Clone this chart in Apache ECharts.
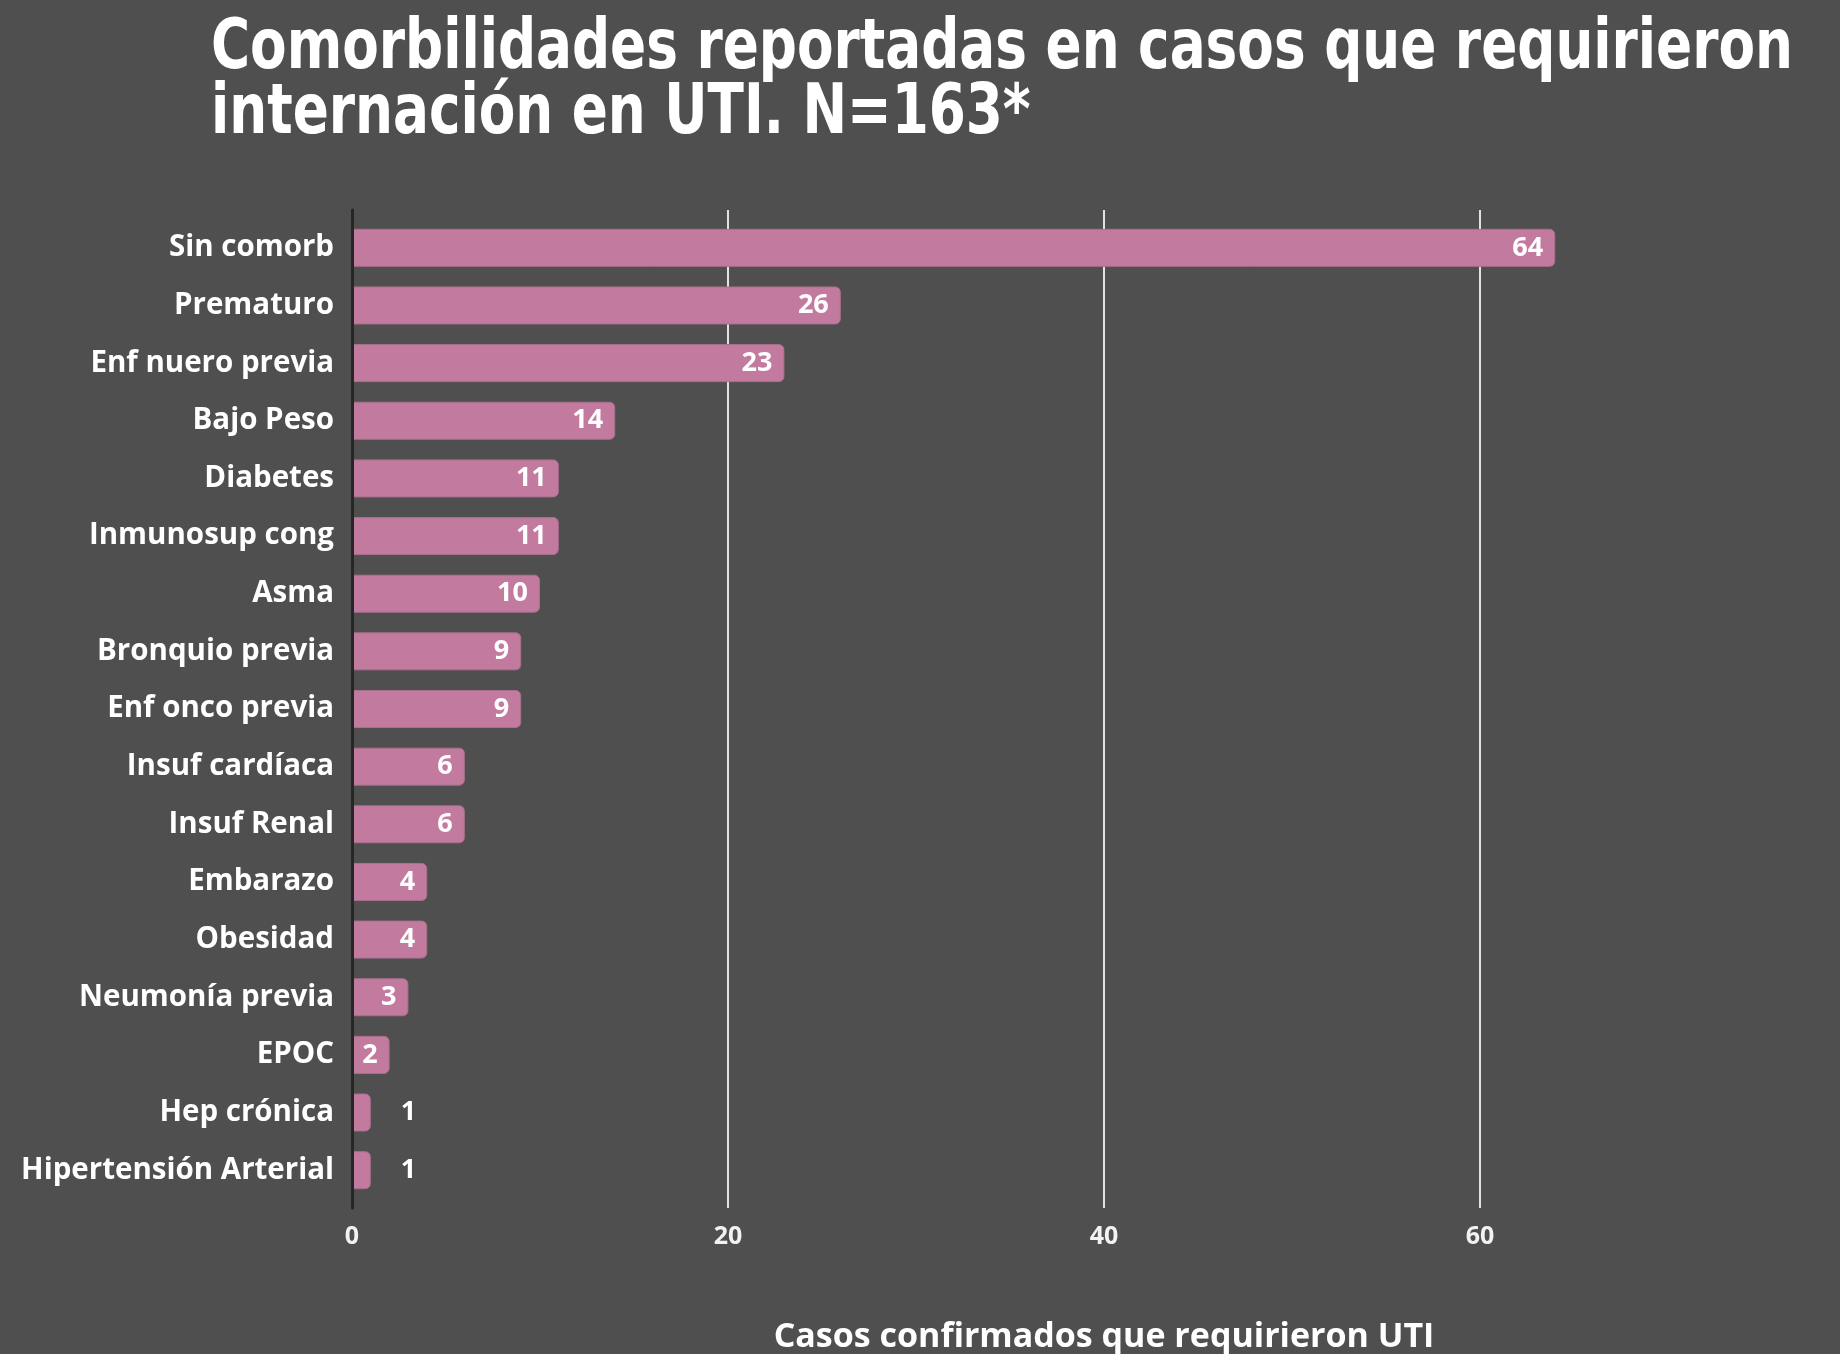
<!DOCTYPE html>
<html>
<head>
<meta charset="utf-8">
<script src="https://cdn.jsdelivr.net/npm/echarts@6/dist/echarts.min.js"></script>
<style>
  html, body { margin: 0; padding: 0; background: #4f4f4f; }
  #chart { width: 1840px; height: 1354px; }
</style>
</head>
<body>
<div id="chart"></div>
<script>
// categorías y casos (de arriba hacia abajo)
const categorias = ['Sin comorb', 'Prematuro', 'Enf nuero previa', 'Bajo Peso', 'Diabetes',
  'Inmunosup cong', 'Asma', 'Bronquio previa', 'Enf onco previa', 'Insuf cardíaca',
  'Insuf Renal', 'Embarazo', 'Obesidad', 'Neumonía previa', 'EPOC', 'Hep crónica',
  'Hipertensión Arterial'];
const casos = [64, 26, 23, 14, 11, 11, 10, 9, 9, 6, 6, 4, 4, 3, 2, 1, 1];
const ejeTicks = [0, 20, 40, 60, 80];
const titulo = ['Comorbilidades reportadas en casos que requirieron', 'internación en UTI. N=163*'];

const chart = echarts.init(document.getElementById('chart'));

// el título es una fuente condensada, se ajusta el ancho a lo que ocupa en el original
const tituloFont = 'bold 69px "DejaVu Sans Condensed", "DejaVu Sans", sans-serif';
const ctx = document.createElement('canvas').getContext('2d');
ctx.font = tituloFont;
const escalaX = 1582 / ctx.measureText(titulo[0]).width;

// etiquetas: dentro de la barra, salvo cuando no entra
const datos = casos.map(v => ({
  value: v,
  label: v < 2
    ? { position: 'right', distance: 30 }
    : { position: 'insideRight', distance: 12 }
}));

const option = {
  backgroundColor: '#4f4f4f',
  animation: false,
  graphic: [{
    type: 'text',
    x: 211,
    y: 18,
    scaleX: escalaX,
    style: {
      text: titulo.join('\n'),
      font: tituloFont,
      fill: '#ffffff',
      lineHeight: 65
    }
  }],
  grid: [
    // barras
    { left: 352, right: -16, top: 219, bottom: 155, outerBoundsMode: 'none' },
    // líneas de fondo y eje (un poco más largas que las barras)
    { left: 352, right: -16, top: 210, bottom: 146, outerBoundsMode: 'none' }
  ],
  xAxis: [
    {
      gridIndex: 0,
      type: 'value',
      min: ejeTicks[0],
      max: ejeTicks[ejeTicks.length - 1],
      interval: 20,
      show: false
    },
    {
      gridIndex: 1,
      type: 'value',
      min: ejeTicks[0],
      max: ejeTicks[ejeTicks.length - 1],
      interval: 20,
      axisLine: { show: false },
      axisTick: { show: false },
      splitLine: {
        show: true,
        showMinLine: false,
        showMaxLine: false,
        lineStyle: { color: '#e2e2e2', width: 2 }
      },
      axisLabel: {
        color: '#f2f2f2',
        fontFamily: 'Open Sans',
        fontWeight: 'bold',
        fontSize: 25,
        margin: 16,
        showMaxLabel: false
      },
      name: 'Casos confirmados que requirieron UTI',
      nameLocation: 'middle',
      nameGap: 112,
      nameTextStyle: {
        color: '#ffffff',
        fontFamily: 'Open Sans',
        fontWeight: 'bold',
        fontSize: 34
      }
    }
  ],
  yAxis: [
    {
      gridIndex: 0,
      type: 'category',
      inverse: true,
      data: categorias,
      axisLine: { show: false },
      axisTick: { show: false },
      axisLabel: {
        color: '#ffffff',
        fontFamily: 'Open Sans',
        fontWeight: 'bold',
        fontSize: 29.5,
        margin: 18
      }
    },
    {
      gridIndex: 1,
      type: 'value',
      axisLabel: { show: false },
      axisTick: { show: false },
      splitLine: { show: false },
      axisLine: { show: true, lineStyle: { color: '#262626', width: 3 } },
      z: 5
    }
  ],
  series: [{
    type: 'bar',
    xAxisIndex: 0,
    yAxisIndex: 0,
    data: datos,
    barWidth: 38,
    z: 3,
    itemStyle: {
      color: '#c27b9f',
      borderColor: '#a9708d',
      borderWidth: 1,
      borderRadius: [0, 5, 5, 0]
    },
    label: {
      show: true,
      color: '#ffffff',
      fontFamily: 'Open Sans',
      fontWeight: 'bold',
      fontSize: 27
    }
  }]
};

chart.setOption(option);
</script>
</body>
</html>
